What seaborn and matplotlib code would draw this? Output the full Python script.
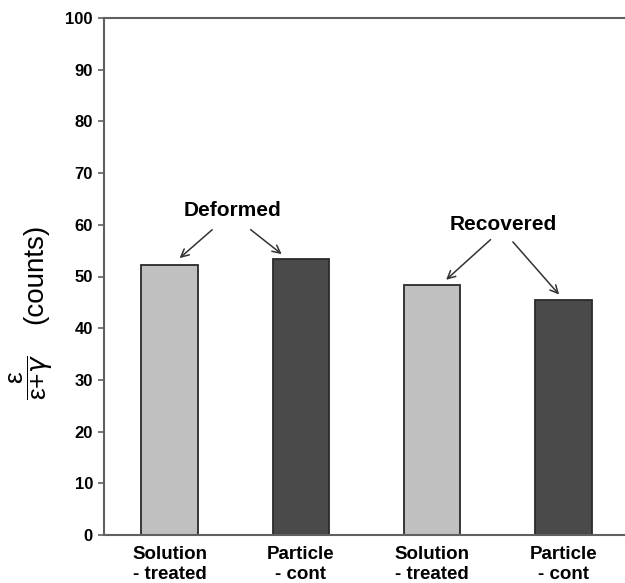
import matplotlib
matplotlib.use("Agg")
import matplotlib.pyplot as plt
import seaborn as sns
import pandas as pd

# Data
conditions = ["Deformed", "Deformed", "Recovered", "Recovered"]
samples = ["Solution-treated", "Particle-cont", "Solution-treated", "Particle-cont"]
categories = ["Deformed / Solution-treated", "Deformed / Particle-cont",
              "Recovered / Solution-treated", "Recovered / Particle-cont"]
values = [52.3, 53.3, 48.4, 45.5]
tick_labels = ["Solution\n- treated", "Particle\n- cont", "Solution\n- treated", "Particle\n- cont"]
bar_colors = ["#c0c0c0", "#4a4a4a", "#c0c0c0", "#4a4a4a"]
yticks = [0, 10, 20, 30, 40, 50, 60, 70, 80, 90, 100]

df = pd.DataFrame({"category": categories, "value": values})

sns.set_style("white")
plt.rcParams['font.family'] = ['Liberation Sans', 'DejaVu Sans']
plt.rcParams['mathtext.default'] = 'regular'
plt.rcParams['text.color'] = 'black'
plt.rcParams['xtick.color'] = 'black'
plt.rcParams['ytick.color'] = 'black'

fig = plt.figure(figsize=(6.25, 5.83), dpi=100)
ax = fig.add_axes([104/625, 48/583, 1 - 104/625, (535-18)/583])

sns.barplot(data=df, x="category", y="value", hue="category",
            palette=dict(zip(categories, bar_colors)), legend=False,
            width=0.43, edgecolor="#2a2a2a", linewidth=1.3, ax=ax)

ax.set_xlim(-0.5, (625-104)/131.3 - 0.5)
ax.set_ylim(0, 100)
ax.set_yticks(yticks)
ax.set_yticklabels([str(t) for t in yticks], fontsize=12, fontweight='bold', color='black')
ax.set_xticks(range(len(tick_labels)))
ax.set_xticklabels(tick_labels, fontsize=13.5, fontweight='bold', linespacing=1.2, color='black')
ax.tick_params(axis='y', direction='out', length=4, width=1.2, color='#606060', pad=4, left=True)
ax.tick_params(axis='x', length=0, pad=8)
ax.set_xlabel("")
ax.set_ylabel("")

for side in ['left', 'bottom', 'top']:
    ax.spines[side].set_visible(True)
    ax.spines[side].set_color('#606060')
    ax.spines[side].set_linewidth(1.5)
ax.spines['right'].set_visible(False)

# Annotations
ax.text(0.48, 62.7, "Deformed", ha='center', va='center', fontsize=15, fontweight='bold', color='black')
ax.text(2.54, 60.0, "Recovered", ha='center', va='center', fontsize=15, fontweight='bold', color='black')
arrow = dict(arrowstyle='->', color='#333333', lw=1.1, mutation_scale=14)
ax.annotate("", xy=(0.06, 53.2), xytext=(0.34, 59.4), arrowprops=arrow)
ax.annotate("", xy=(0.87, 54.0), xytext=(0.60, 59.4), arrowprops=arrow)
ax.annotate("", xy=(2.09, 49.0), xytext=(2.46, 57.5), arrowprops=arrow)
ax.annotate("", xy=(2.98, 46.1), xytext=(2.60, 57.1), arrowprops=arrow)

# Y label (fraction + counts)
fig.text(31/625, 1 - 377/583, r"$\dfrac{\varepsilon}{\varepsilon{+}\mathit{\gamma}}$", rotation=90,
         ha='center', va='center', fontsize=19, color='black')
fig.text(35/625, 1 - 274/583, "(counts)", rotation=90, ha='center', va='center', fontsize=20, color='black')

fig.savefig("out.png", dpi=100)
